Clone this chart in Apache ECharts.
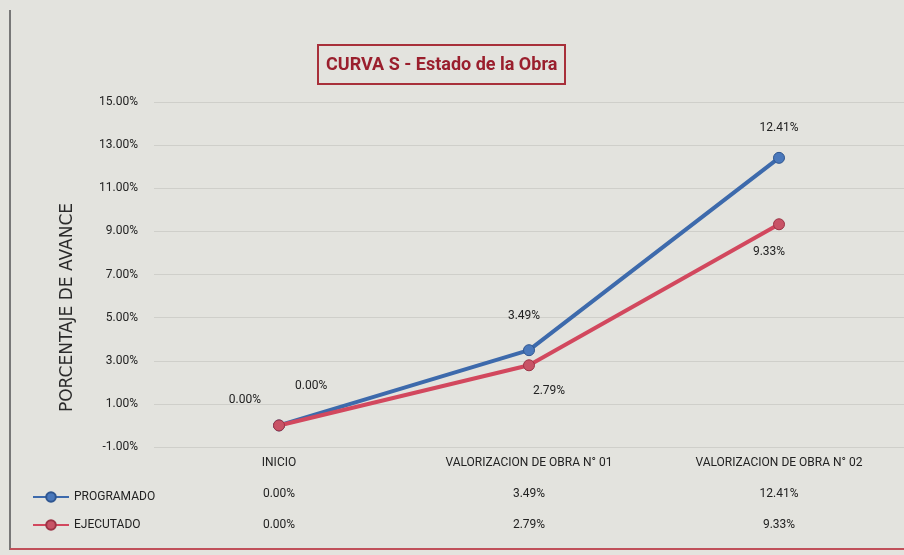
<!DOCTYPE html>
<html>
<head>
<meta charset="utf-8">
<script src="https://cdn.jsdelivr.net/npm/echarts@6/dist/echarts.min.js"></script>
<style>
html, body { margin: 0; padding: 0; background: #e3e3de; }
#chart { width: 904px; height: 555px; }
</style>
</head>
<body>
<div id="chart"></div>
<script>
// etapas de la obra
var categories = ['INICIO', 'VALORIZACION DE OBRA N° 01', 'VALORIZACION DE OBRA N° 02'];
var programado = [0.00, 3.49, 12.41];
var ejecutado = [0.00, 2.79, 9.33];
var yTicks = { min: -1, max: 15, step: 2 };

var narrow = "Roboto, 'Liberation Sans', sans-serif";

function pct(v) {
	return v.toFixed(2) + '%';
}

// etiquetas de los puntos, una por punto
var progLabels = [
	{ position: 'left', distance: 12, offset: [0, -25] },
	{ position: 'top', distance: 22, offset: [-5, 0] },
	{ position: 'top', distance: 18 }
];
var ejecLabels = [
	{ position: 'right', distance: 8, offset: [2, -39] },
	{ position: 'bottom', distance: 10, offset: [20, 4] },
	{ position: 'bottom', distance: 10, offset: [-10, 6] }
];

function buildData(values, labels) {
	return values.map(function (v, i) {
		return { value: v, label: labels[i] };
	});
}

var myChart = echarts.init(document.getElementById('chart'));

var option = {
	backgroundColor: '#e3e3de',
	title: {
		text: 'CURVA S - Estado de la Obra',
		left: 318,
		top: 45,
		padding: [11, 8, 10, 8],
		borderColor: '#a8303a',
		borderWidth: 2,
		textStyle: {
			color: '#9a1f2d',
			fontFamily: narrow,
			fontWeight: 'bold',
			fontSize: 18
		}
	},
	legend: {
		orient: 'vertical',
		left: 27,
		top: 486,
		itemGap: 16,
		itemWidth: 36,
		itemHeight: 12,
		data: ['PROGRAMADO', 'EJECUTADO'],
		textStyle: {
			color: '#222',
			fontFamily: narrow,
			fontSize: 12
		}
	},
	grid: {
		left: 154,
		right: 0,
		top: 102,
		bottom: 108
	},
	xAxis: {
		type: 'category',
		data: categories,
		boundaryGap: true,
		axisLine: { show: false },
		axisTick: { show: false },
		axisLabel: {
			interval: 0,
			hideOverlap: false,
			margin: 0,
			color: '#222',
			fontFamily: narrow,
			fontSize: 12,
			lineHeight: 31,
			formatter: function (val, idx) {
				return val + '\n' + pct(programado[idx]) + '\n' + pct(ejecutado[idx]);
			}
		}
	},
	yAxis: {
		type: 'value',
		min: yTicks.min,
		max: yTicks.max,
		interval: yTicks.step,
		name: 'PORCENTAJE DE AVANCE',
		nameLocation: 'middle',
		nameGap: 78,
		nameTextStyle: {
			color: '#2a2a2a',
			fontFamily: "'DejaVu Sans', sans-serif",
			fontSize: 17,
			padding: [0, 66, 0, 0]
		},
		axisLine: { show: false },
		axisTick: { show: false },
		axisLabel: {
			margin: 16,
			color: '#222',
			fontFamily: narrow,
			fontSize: 12,
			formatter: function (v) { return pct(v); }
		},
		splitLine: {
			show: true,
			lineStyle: { color: '#cfcfca', width: 1 }
		}
	},
	series: [{
		name: 'PROGRAMADO',
		type: 'line',
		data: buildData(programado, progLabels),
		symbol: 'circle',
		symbolSize: 11,
		lineStyle: { color: '#3d6aac', width: 4 },
		itemStyle: { color: '#4a78bb', borderColor: '#2f5690', borderWidth: 1 },
		label: {
			show: true,
			color: '#222',
			fontFamily: narrow,
			fontSize: 12,
			formatter: function (p) { return pct(p.value); }
		},
		z: 3
	}, {
		name: 'EJECUTADO',
		type: 'line',
		data: buildData(ejecutado, ejecLabels),
		symbol: 'circle',
		symbolSize: 11,
		lineStyle: { color: '#d2485e', width: 4 },
		itemStyle: { color: '#c85366', borderColor: '#9c3446', borderWidth: 1 },
		label: {
			show: true,
			color: '#222',
			fontFamily: narrow,
			fontSize: 12,
			formatter: function (p) { return pct(p.value); }
		},
		z: 4
	}],
	graphic: [{
		type: 'line',
		shape: { x1: 10, y1: 10, x2: 10, y2: 550 },
		style: { stroke: '#777', lineWidth: 2 }
	}, {
		type: 'line',
		shape: { x1: 10, y1: 549, x2: 904, y2: 549 },
		style: { stroke: '#c0505a', lineWidth: 2 }
	}]
};

myChart.setOption(option);
</script>
</body>
</html>
